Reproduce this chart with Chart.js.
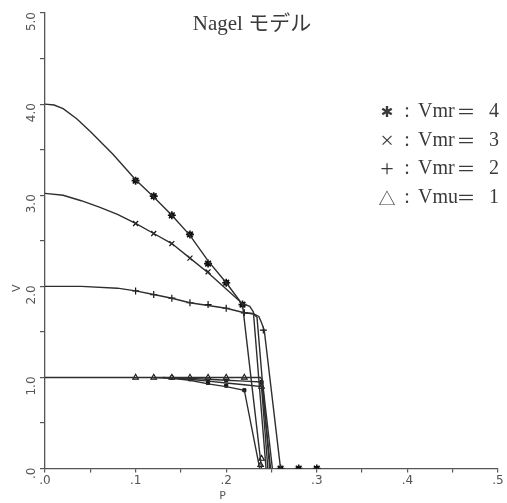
<!DOCTYPE html>
<html>
<head>
<meta charset="utf-8">
<script src="https://cdn.jsdelivr.net/npm/chart.js"></script>
<style>
    html, body { margin: 0; padding: 0; background: #fff; }
    #wrap { width: 507px; height: 503px; }
</style>
</head>
<body>
<div id="wrap"><canvas id="nagelChart" width="507" height="503"></canvas></div>
<script>
// ---- chart data ----
const titleText = "Nagel モデル";
const xTitle = "P";
const yTitle = "V";
const yTickLabels = [".0", "1.0", "2.0", "3.0", "4.0", "5.0"];
const legendSymbols = ["✱", "×", "+", "△"];
const legendNames = ["Vmr", "Vmr", "Vmr", "Vmu"];
const legendValues = ["4", "3", "2", "1"];

// model curves (plain lines)
const l4P = [0, 0.01, 0.02, 0.035, 0.05, 0.075, 0.1, 0.12, 0.14, 0.16, 0.18, 0.2, 0.218, 0.239];
const l4V = [4.0, 3.99, 3.95, 3.84, 3.70, 3.45, 3.17, 2.98, 2.78, 2.56, 2.28, 2.04, 1.80, 0];
const l3P = [0, 0.02, 0.04, 0.06, 0.08, 0.1, 0.12, 0.14, 0.16, 0.18, 0.2, 0.218, 0.226, 0.23, 0.244];
const l3V = [3.02, 3.0, 2.94, 2.87, 2.79, 2.69, 2.58, 2.47, 2.31, 2.15, 1.97, 1.81, 1.78, 1.72, 0];
const l2P = [0, 0.04, 0.08, 0.1, 0.12, 0.14, 0.16, 0.18, 0.2, 0.22, 0.23, 0.236, 0.239, 0.242, 0.26];
const l2V = [2.0, 2.0, 1.98, 1.95, 1.91, 1.87, 1.82, 1.79, 1.76, 1.71, 1.70, 1.67, 1.60, 1.52, 0];
const l2bP = [0.22, 0.23, 0.234, 0.248];
const l2bV = [1.71, 1.70, 1.66, 0];
const b1P = [0, 0.05, 0.1, 0.12, 0.14, 0.16, 0.18, 0.2, 0.22, 0.238, 0.24, 0.251];
const b1V = [1.0, 1.0, 1.0, 1.0, 1.0, 1.0, 1.0, 1.0, 1.0, 1.0, 0.96, 0];
const b2P = [0.14, 0.16, 0.18, 0.2, 0.22, 0.239, 0.249];
const b2V = [1.0, 0.99, 0.98, 0.97, 0.96, 0.95, 0];
const b3P = [0.13, 0.16, 0.18, 0.2, 0.22, 0.239, 0.246];
const b3V = [1.0, 0.98, 0.96, 0.94, 0.92, 0.90, 0];
const b4P = [0.12, 0.14, 0.16, 0.18, 0.2, 0.22, 0.237];
const b4V = [1.0, 0.99, 0.97, 0.93, 0.90, 0.86, 0];

// measured points (markers)
const starP = [0.1, 0.12, 0.14, 0.16, 0.18, 0.2, 0.218, 0.26, 0.28, 0.30];
const starV = [3.16, 2.99, 2.78, 2.57, 2.25, 2.04, 1.80, 0, 0, 0];
const crossP = [0.1, 0.12, 0.14, 0.16, 0.18];
const crossV = [2.69, 2.58, 2.47, 2.31, 2.16];
const plusP = [0.1, 0.12, 0.14, 0.16, 0.18, 0.2, 0.22, 0.241];
const plusV = [1.95, 1.91, 1.87, 1.82, 1.80, 1.76, 1.71, 1.52];
const triP = [0.1, 0.12, 0.14, 0.16, 0.18, 0.2, 0.22, 0.239, 0.239, 0.238];
const triV = [1.0, 1.0, 1.0, 1.0, 1.0, 1.0, 1.0, 0.90, 0.11, 0.04];
const dotP = [0.14, 0.16, 0.18, 0.18, 0.2, 0.2, 0.22, 0.239];
const dotV = [1.0, 0.98, 0.97, 0.94, 0.97, 0.91, 0.86, 0.95];

document.addEventListener("DOMContentLoaded", () => {
    const ink = "#2e2e2e";
    const toPoints = (xs, ys) => xs.map((p, i) => ({ x: p, y: ys[i] }));

    // 1. plain model lines
    function lineSet(xs, ys) {
        return {
            data: toPoints(xs, ys),
            showLine: true,
            borderColor: ink,
            borderWidth: 1.4,
            pointRadius: 0,
            tension: 0
        };
    }

    // 2. marker sets
    function markSet(xs, ys, style, radius, width, fill) {
        return {
            data: toPoints(xs, ys),
            showLine: false,
            pointStyle: style,
            pointRadius: radius,
            pointBorderWidth: width,
            pointBorderColor: "#111",
            pointBackgroundColor: fill
        };
    }

    const datasets = [
        lineSet(l4P, l4V), lineSet(l3P, l3V), lineSet(l2P, l2V), lineSet(l2bP, l2bV),
        lineSet(b1P, b1V), lineSet(b2P, b2V), lineSet(b3P, b3V), lineSet(b4P, b4V),
        markSet(starP, starV, "rect", 2.8, 1, "#111"),
        markSet(starP, starV, "star", 4, 1.6, "#111"),
        markSet(crossP, crossV, "crossRot", 3.5, 1.2, "#111"),
        markSet(plusP, plusV, "cross", 3.5, 1.2, "#111"),
        markSet(triP, triV, "triangle", 3.2, 1.1, "#fff"),
        markSet(dotP, dotV, "rect", 2.2, 1, "#111")
    ];

    // 3. texts drawn on top (title, legend, rotated y labels, axis names)
    const serif = '"Liberation Serif", "Noto Sans CJK JP", serif';
    const textPlugin = {
        id: "nagelText",
        afterDraw(chart) {
            const { ctx, scales } = chart;
            const y = scales.y;
            const x = scales.x;
            ctx.save();
            ctx.fillStyle = "#3a3a3a";
            ctx.textBaseline = "middle";

            ctx.font = "21px " + serif;
            ctx.textAlign = "center";
            ctx.fillText(titleText, 252, 24);

            legendSymbols.forEach((s, i) => {
                const ly = 112 + i * 28.5;
                if (s === "✱") ctx.font = '15px "DejaVu Sans"';
                else if (s === "△") ctx.font = '17px "Noto Sans CJK JP"';
                else ctx.font = '24px "Liberation Serif"';
                ctx.textAlign = "center";
                ctx.fillText(s, 387, ly + 1);
                ctx.font = "20px " + serif;
                ctx.fillText(":", 407, ly);
                ctx.textAlign = "left";
                ctx.fillText(legendNames[i], 418, ly);
                ctx.textAlign = "center";
                ctx.font = '19px "Noto Sans CJK JP"';
                ctx.fillText("＝", 466, ly);
                ctx.font = "20px " + serif;
                ctx.fillText(legendValues[i], 494, ly);
            });

            ctx.font = '12px "DejaVu Sans"';
            ctx.fillStyle = "#555";
            yTickLabels.forEach((lab, i) => {
                ctx.save();
                ctx.translate(32, y.getPixelForValue(i) - 1);
                ctx.rotate(-Math.PI / 2);
                ctx.textAlign = "right";
                ctx.fillText(lab, 0, 0);
                ctx.restore();
            });

            ctx.save();
            ctx.font = '11px "DejaVu Sans"';
            ctx.translate(17, y.getPixelForValue(1.98));
            ctx.rotate(-Math.PI / 2);
            ctx.textAlign = "center";
            ctx.fillText(yTitle, 0, 0);
            ctx.restore();

            ctx.font = '11px "DejaVu Sans"';
            ctx.textAlign = "center";
            ctx.fillText(xTitle, x.getPixelForValue(0.196), 496);
            ctx.restore();
        }
    };

    const ctx = document.getElementById("nagelChart").getContext("2d");
    new Chart(ctx, {
        type: "scatter",
        data: { datasets: datasets },
        plugins: [textPlugin],
        options: {
            responsive: false,
            animation: false,
            devicePixelRatio: 1,
            layout: { padding: { left: 40, right: 9, top: 13, bottom: 14 } },
            plugins: { legend: { display: false }, tooltip: { enabled: false } },
            scales: {
                x: {
                    type: "linear",
                    min: 0,
                    max: 0.5,
                    border: { color: "#555", width: 1.3 },
                    grid: { drawOnChartArea: false, drawTicks: true, tickLength: 4, color: "#555", lineWidth: 1.2 },
                    ticks: {
                        stepSize: 0.05,
                        autoSkip: false,
                        maxRotation: 0,
                        padding: 1,
                        color: "#555",
                        font: { family: "DejaVu Sans", size: 12 },
                        callback: (v) => {
                            const t = Math.round(v * 100);
                            return t % 10 === 0 ? "." + (t / 10) : "";
                        }
                    }
                },
                y: {
                    type: "linear",
                    min: 0,
                    max: 5,
                    border: { color: "#555", width: 1.3 },
                    grid: { drawOnChartArea: false, drawTicks: true, tickLength: 5, color: "#555", lineWidth: 1.2 },
                    ticks: { stepSize: 0.5, display: false }
                }
            }
        }
    });
});
</script>
</body>
</html>
